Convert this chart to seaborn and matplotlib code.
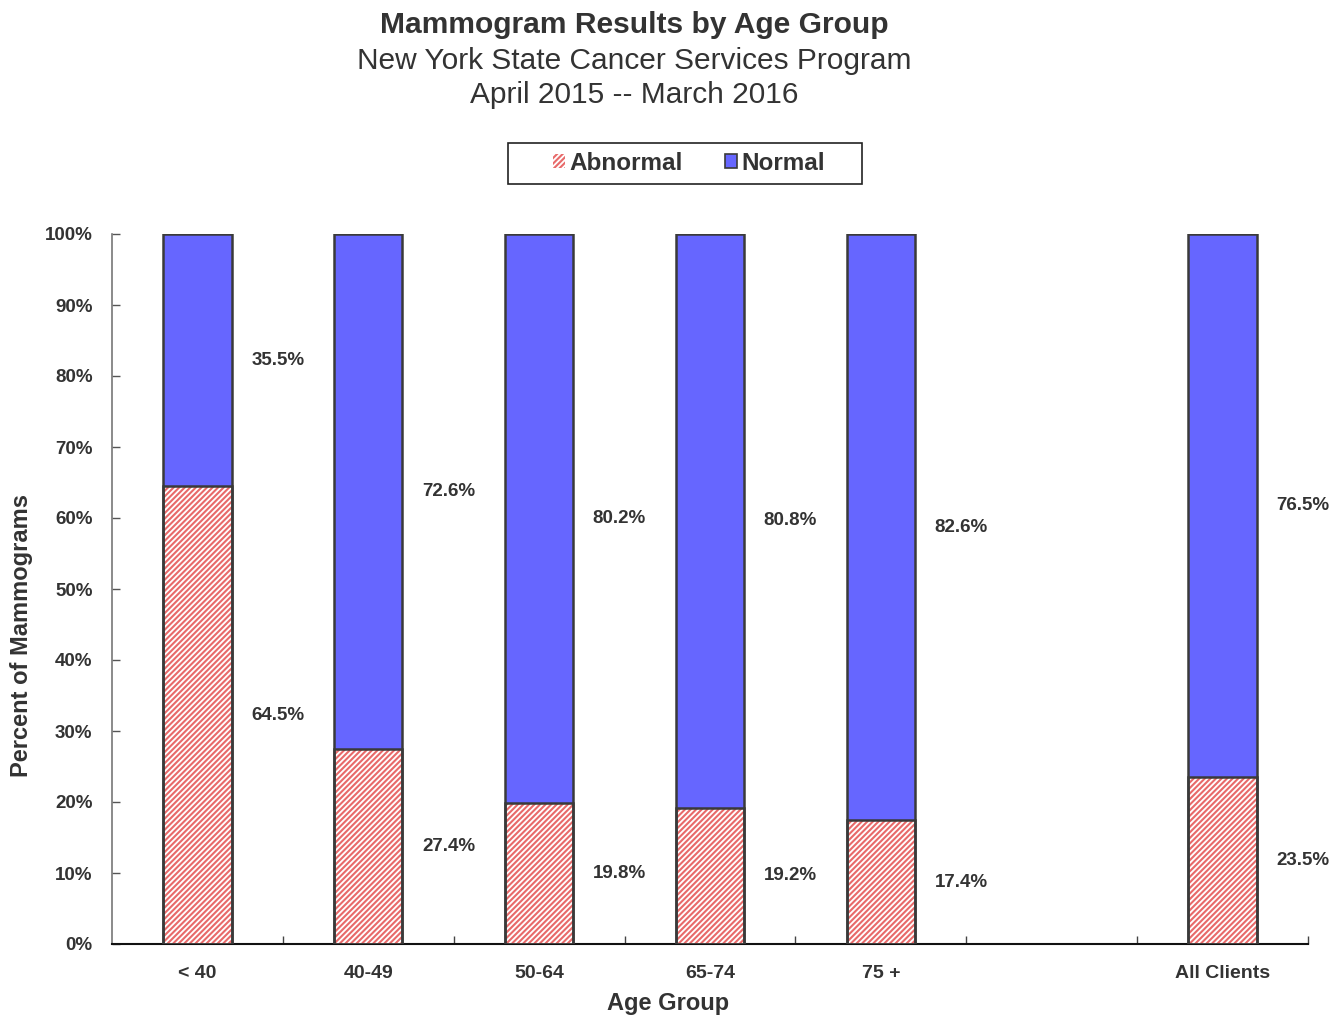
import numpy as np
import pandas as pd
import matplotlib
matplotlib.use("Agg")
import matplotlib.pyplot as plt
from matplotlib.patches import Patch, Rectangle
import seaborn as sns

groups = ["< 40", "40-49", "50-64", "65-74", "75 +", "All Clients"]
abnormal = [64.5, 27.4, 19.8, 19.2, 17.4, 23.5]
normal = [35.5, 72.6, 80.2, 80.8, 82.6, 76.5]
order = ["< 40", "40-49", "50-64", "65-74", "75 +", " ", "All Clients"]
yticks = list(range(0, 101, 10))

sns.set_theme(style="white")
plt.rcParams["font.family"] = ["Liberation Sans", "DejaVu Sans"]
plt.rcParams["hatch.linewidth"] = 1.5

TXT = "#333333"
BLUE = "#6666FF"
RED = "#E86A6A"
EDGE = "#3A3A3A"

df = pd.DataFrame({"group": groups, "abnormal": abnormal, "normal": normal})
df["total"] = df["abnormal"] + df["normal"]

W, H = 1342, 1017
fig = plt.figure(figsize=(W / 100, H / 100), dpi=100)
ax = fig.add_axes([112 / W, 1 - 944 / H, 1196 / W, 710 / H])

w = 0.4
# normal segment (full stack), then abnormal hatched on top
sns.barplot(data=df, x="group", y="total", order=order, color=BLUE,
            saturation=1, width=w, linewidth=0, ax=ax, zorder=2)
sns.barplot(data=df, x="group", y="abnormal", order=order, color="white",
            saturation=1, width=w, edgecolor=RED, hatch="//////",
            linewidth=0, ax=ax, zorder=3)
# outlines
sns.barplot(data=df, x="group", y="total", order=order, color=EDGE, fill=False,
            width=w, linewidth=1.8, ax=ax, zorder=4)
sns.barplot(data=df, x="group", y="abnormal", order=order, color=EDGE, fill=False,
            width=w, linewidth=1.8, ax=ax, zorder=4)

pos = {g: order.index(g) for g in groups}
for g, a, n in zip(groups, abnormal, normal):
    x = pos[g] + 0.47
    ax.text(x, a / 2, f"{a:.1f}%", ha="center", va="center",
            fontsize=13.5, fontweight="bold", color=TXT)
    ax.text(x, a + n / 2, f"{n:.1f}%", ha="center", va="center",
            fontsize=13.5, fontweight="bold", color=TXT)

ax.set_xlim(-0.5, len(order) - 0.5)
ax.set_ylim(0, 100)
ax.set_yticks(yticks)
ax.set_yticklabels([f"{t}%" for t in yticks])
ax.tick_params(axis="y", direction="in", length=6, width=1, color="#555555",
               pad=14, labelsize=13.5, labelcolor=TXT, left=True)
for lab in ax.get_yticklabels():
    lab.set_fontweight("bold")

ax.set_xticks(range(len(order)))
ax.set_xticklabels(order)
ax.set_xticks(np.arange(0.5, len(order), 1.0), minor=True)
ax.tick_params(axis="x", which="major", length=0, pad=15, labelsize=14,
               labelcolor=TXT)
ax.tick_params(axis="x", which="minor", direction="in", length=6, width=1,
               color="#444444", bottom=True)
for lab in ax.get_xticklabels():
    lab.set_fontweight("bold")

for s in ["top", "right"]:
    ax.spines[s].set_visible(False)
ax.spines["left"].set_color("#777777")
ax.spines["left"].set_linewidth(1.2)
ax.spines["bottom"].set_color("#111111")
ax.spines["bottom"].set_linewidth(1.5)

ax.set_xlabel("Age Group", fontsize=17, fontweight="bold", color=TXT)
ax.set_ylabel("Percent of Mammograms", fontsize=17, fontweight="bold", color=TXT)
ax.xaxis.set_label_coords(0.465, -0.068)
ax.yaxis.set_label_coords(-0.066, 0.435)

tx = 634 / W
fig.text(tx, 1 - 25 / H, "Mammogram Results by Age Group", ha="center",
         va="center", fontsize=21.6, fontweight="bold", color=TXT)
fig.text(tx, 1 - 61 / H, "New York State Cancer Services Program",
         ha="center", va="center", fontsize=21.5, color=TXT)
fig.text(tx, 1 - 95 / H, "April 2015 -- March 2016", ha="center",
         va="center", fontsize=21.5, color=TXT)

# legend box
fig.patches.append(Rectangle((508 / W, 1 - 184 / H), 354 / W, 41 / H,
                             transform=fig.transFigure, facecolor="white",
                             edgecolor="#222222", linewidth=1.2, zorder=1))
handles = [Patch(facecolor="white", edgecolor=RED, hatch="//////", linewidth=0),
           Patch(facecolor=BLUE, edgecolor=EDGE, linewidth=1.2)]
leg = fig.legend(handles, ["Abnormal", "Normal"], loc="center",
                 bbox_to_anchor=(689 / W, 1 - 163 / H), ncol=2,
                 frameon=False, prop={"weight": "bold", "size": 17.5},
                 handlelength=0.5, handleheight=0.5, handletextpad=0.2,
                 columnspacing=1.7, borderpad=0.2, borderaxespad=0)
leg.set_zorder(2)
for t in leg.get_texts():
    t.set_color(TXT)

fig.savefig("out.png", dpi=100)
